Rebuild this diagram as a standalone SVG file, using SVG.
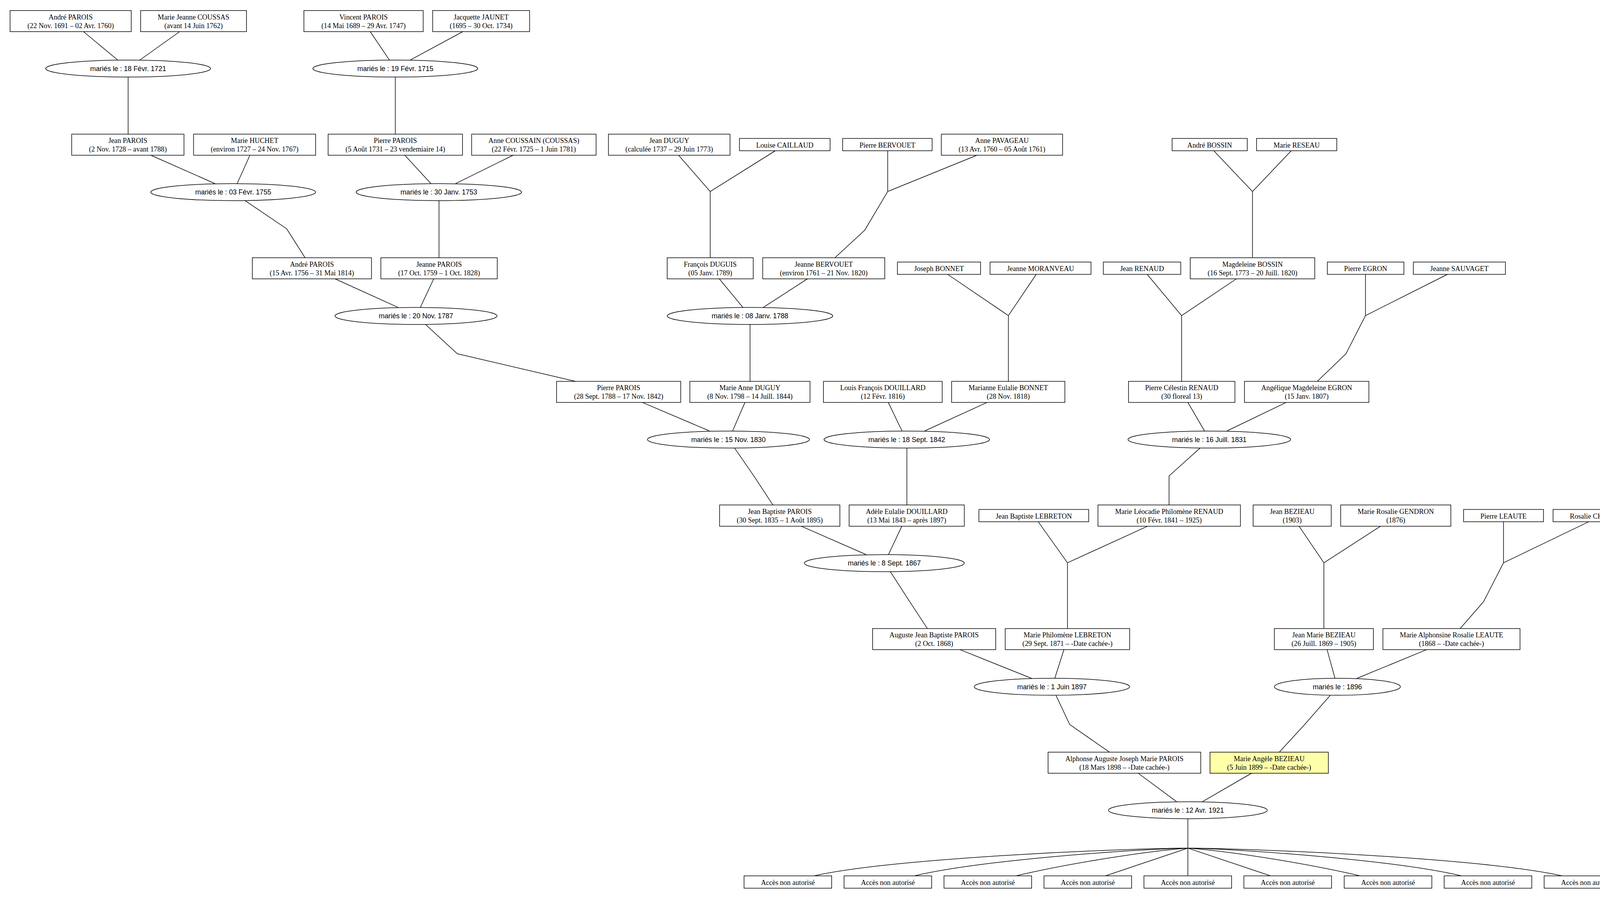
<svg xmlns="http://www.w3.org/2000/svg" width="4248" height="2302" viewBox="0 0 4248 2302">
<style>
.b{fill:#ffffff;stroke:#000000;stroke-width:1.5}
.y{fill:#ffffaa;stroke:#000000;stroke-width:1.5}
.t{font-family:"Liberation Serif","Times New Roman",serif;font-size:18.15px;fill:#000000;text-anchor:middle}
.m{fill:#ffffff;stroke:#000000;stroke-width:1.5}
.s{font-family:"Liberation Sans",Arial,sans-serif;font-size:17.7px;fill:#000000;text-anchor:middle}
#edges polyline,#edges path{fill:none;stroke:#000000;stroke-width:1.5}
</style>
<rect x="0" y="0" width="4248" height="2302" fill="#ffffff"/>
<g id="edges">
<polyline points="213.6,81 301.7,154"/>
<polyline points="460,81 357.5,154"/>
<polyline points="947.7,81 996.9,153.7"/>
<polyline points="1184.7,81 1050.4,153.7"/>
<polyline points="328,197.3 328,343.5"/>
<polyline points="1012,197.3 1012,343.5"/>
<polyline points="385,397 550.5,470.2"/>
<polyline points="640,397 607,470.2"/>
<polyline points="1035.8,397 1103.3,470.2"/>
<polyline points="1314.6,397 1166.3,470.2"/>
<polyline points="1736.7,397 1818.2,490.4"/>
<polyline points="1984.8,386 1818.2,490.4"/>
<polyline points="2272.5,386 2272.5,490.4"/>
<polyline points="2502.2,397 2272.5,490.4"/>
<polyline points="3107.3,386 3206.4,490.4"/>
<polyline points="3305.5,386 3206.4,490.4"/>
<polyline points="627.6,513.8 734,586 781,660"/>
<polyline points="1123.8,513.8 1123.8,660"/>
<polyline points="1818.2,490.4 1818.2,660"/>
<polyline points="2272.5,490.4 2213.7,589.5 2137.4,660"/>
<polyline points="3206.4,490.4 3206.4,660"/>
<polyline points="856.6,713.5 1019,787.2"/>
<polyline points="1110.5,713.5 1076,787.2"/>
<polyline points="1841,713.5 1901.9,787.2"/>
<polyline points="2067.8,713.5 1954,787.2"/>
<polyline points="2425.9,702.5 2581.5,808.2"/>
<polyline points="2652.7,702.5 2581.5,808.2"/>
<polyline points="2936.8,702.5 3024.9,808.2"/>
<polyline points="3166,713.5 3024.9,808.2"/>
<polyline points="3495.6,702.5 3495.6,808.2"/>
<polyline points="3705.5,702.5 3495.6,808.2"/>
<polyline points="1089.3,830.8 1170.7,905.8 1473.2,976.5"/>
<polyline points="1920.2,830.8 1920.2,976.5"/>
<polyline points="2581.5,808.2 2581.5,976.5"/>
<polyline points="3024.9,808.2 3024.9,976.5"/>
<polyline points="3495.6,808.2 3445.7,905.8 3372.3,976.5"/>
<polyline points="1645,1030.6 1816,1103.5"/>
<polyline points="1907,1030.6 1875.4,1103.5"/>
<polyline points="2274,1030.6 2309.2,1103.5"/>
<polyline points="2526.5,1030.6 2367.2,1103.5"/>
<polyline points="3041,1030.6 3083.6,1103.5"/>
<polyline points="3292.3,1030.6 3141,1103.5"/>
<polyline points="1880.4,1147.1 1930,1218.8 1978.7,1293.2"/>
<polyline points="2321.6,1147.1 2321.6,1293.2"/>
<polyline points="3072.3,1147.1 2992.7,1218.8 2992.7,1293.2"/>
<polyline points="2051.8,1347.6 2217.6,1420.2"/>
<polyline points="2308.6,1347.6 2274.4,1420.2"/>
<polyline points="2657.9,1336.1 2732.7,1441.1"/>
<polyline points="2937.4,1347.6 2732.7,1441.1"/>
<polyline points="3325.8,1347.6 3389.2,1441.1"/>
<polyline points="3533.8,1347.6 3389.2,1441.1"/>
<polyline points="3849,1336.1 3849,1441.1"/>
<polyline points="4066.8,1336.1 3849,1441.1"/>
<polyline points="2279.3,1463.8 2326.4,1536.9 2374.4,1609.8"/>
<polyline points="2732.7,1441.1 2732.7,1609.8"/>
<polyline points="3389.2,1441.1 3389.2,1609.8"/>
<polyline points="3849,1441.1 3797.9,1540.8 3737.7,1609.8"/>
<polyline points="2457.2,1663.4 2640.9,1737"/>
<polyline points="2723.7,1663.4 2700.2,1737"/>
<polyline points="3397.3,1663.4 3417.6,1737"/>
<polyline points="3652.4,1663.4 3473.7,1737"/>
<polyline points="2703.4,1780.6 2738.3,1855.1 2840.7,1926.4"/>
<polyline points="3405.4,1780.6 3338.8,1856.6 3274.6,1926.4"/>
<polyline points="2913.9,1980 3012.2,2052.9"/>
<polyline points="3203.9,1980 3078,2052.9"/>
<polyline points="3040.9,2096.5 3040.9,2242.7"/>
<path d="M3040.9,2171.7 C2900,2172 2300,2195 2083.6,2242.7"/>
<path d="M3040.9,2171.7 C2900.8,2174.7 2515.7,2201.7 2340.6,2242.7"/>
<path d="M3040.9,2171.7 C2930.9,2179.7 2732.8,2211.7 2600.8,2242.7"/>
<path d="M3040.9,2171.7 L2829.8,2242.7"/>
<path d="M3040.9,2171.7 L3252.7,2242.7"/>
<path d="M3040.9,2171.7 C3151.1,2179.7 3349.5,2211.7 3481.8,2242.7"/>
<path d="M3040.9,2171.7 C3181.1,2174.7 3566.6,2201.7 3741.8,2242.7"/>
<path d="M3040.9,2171.7 C3181.8,2172 3782.8,2195 3999.4,2242.7"/>
</g>
<g id="andre-parois-1691"><rect class="b" x="25.7" y="27" width="310.3" height="54"/><text class="t" x="180.9" y="49.5">André PAROIS</text><text class="t" x="180.9" y="71.5">(22 Nov. 1691 – 02 Avr. 1760)</text></g>
<g id="marie-jeanne-coussas"><rect class="b" x="360" y="27" width="271" height="54"/><text class="t" x="495.5" y="49.5">Marie Jeanne COUSSAS</text><text class="t" x="495.5" y="71.5">(avant 14 Juin 1762)</text></g>
<g id="vincent-parois"><rect class="b" x="778" y="27" width="305.4" height="54"/><text class="t" x="930.7" y="49.5">Vincent PAROIS</text><text class="t" x="930.7" y="71.5">(14 Mai 1689 – 29 Avr. 1747)</text></g>
<g id="jacquette-jaunet"><rect class="b" x="1107.6" y="27" width="248.1" height="54"/><text class="t" x="1231.7" y="49.5">Jacquette JAUNET</text><text class="t" x="1231.7" y="71.5">(1695 – 30 Oct. 1734)</text></g>
<g id="m-1721"><ellipse class="m" cx="328" cy="175.5" rx="211" ry="21.8"/><text class="s" x="328" y="181.5">mariés le : 18 Févr. 1721</text></g>
<g id="m-1715"><ellipse class="m" cx="1012" cy="175.5" rx="211" ry="21.8"/><text class="s" x="1012" y="181.5">mariés le : 19 Févr. 1715</text></g>
<g id="jean-parois"><rect class="b" x="183.5" y="343.5" width="287.5" height="54"/><text class="t" x="327.3" y="366">Jean PAROIS</text><text class="t" x="327.3" y="388">(2 Nov. 1728 – avant 1788)</text></g>
<g id="marie-huchet"><rect class="b" x="495.5" y="343.5" width="312.5" height="54"/><text class="t" x="651.8" y="366">Marie HUCHET</text><text class="t" x="651.8" y="388">(environ 1727 – 24 Nov. 1767)</text></g>
<g id="pierre-parois-1731"><rect class="b" x="840" y="343.5" width="344" height="54"/><text class="t" x="1012" y="366">Pierre PAROIS</text><text class="t" x="1012" y="388">(5 Août 1731 – 23 vendemiaire 14)</text></g>
<g id="anne-coussain"><rect class="b" x="1207.4" y="343.5" width="318.6" height="54"/><text class="t" x="1366.7" y="366">Anne COUSSAIN (COUSSAS)</text><text class="t" x="1366.7" y="388">(22 Févr. 1725 – 1 Juin 1781)</text></g>
<g id="jean-duguy"><rect class="b" x="1557.6" y="343.5" width="311.2" height="54"/><text class="t" x="1713.2" y="366">Jean DUGUY</text><text class="t" x="1713.2" y="388">(calculée 1737 – 29 Juin 1773)</text></g>
<g id="louise-caillaud"><rect class="b" x="1893" y="354.5" width="232" height="31.5"/><text class="t" x="2009" y="377.5">Louise CAILLAUD</text></g>
<g id="pierre-bervouet"><rect class="b" x="2157.2" y="354.5" width="229.1" height="31.5"/><text class="t" x="2271.8" y="377.5">Pierre BERVOUET</text></g>
<g id="anne-pavageau"><rect class="b" x="2409.7" y="343.5" width="310.6" height="54"/><text class="t" x="2565" y="366">Anne PAVAGEAU</text><text class="t" x="2565" y="388">(13 Avr. 1760 – 05 Août 1761)</text></g>
<g id="andre-bossin"><rect class="b" x="3000.6" y="354.5" width="192.4" height="31.5"/><text class="t" x="3096.8" y="377.5">André BOSSIN</text></g>
<g id="marie-reseau"><rect class="b" x="3216.7" y="354.5" width="205.5" height="31.5"/><text class="t" x="3319.5" y="377.5">Marie RESEAU</text></g>
<g id="m-1755"><ellipse class="m" cx="597" cy="492" rx="211" ry="21.8"/><text class="s" x="597" y="498">mariés le : 03 Févr. 1755</text></g>
<g id="m-1753"><ellipse class="m" cx="1123.5" cy="492" rx="211.7" ry="21.8"/><text class="s" x="1123.5" y="498">mariés le : 30 Janv. 1753</text></g>
<g id="andre-parois-1756"><rect class="b" x="646" y="660" width="305" height="54"/><text class="t" x="798.5" y="682.5">André PAROIS</text><text class="t" x="798.5" y="704.5">(15 Avr. 1756 – 31 Mai 1814)</text></g>
<g id="jeanne-parois"><rect class="b" x="975" y="660" width="298" height="54"/><text class="t" x="1124" y="682.5">Jeanne PAROIS</text><text class="t" x="1124" y="704.5">(17 Oct. 1759 – 1 Oct. 1828)</text></g>
<g id="francois-duguis"><rect class="b" x="1708" y="660" width="220.3" height="54"/><text class="t" x="1818.2" y="682.5">François DUGUIS</text><text class="t" x="1818.2" y="704.5">(05 Janv. 1789)</text></g>
<g id="jeanne-bervouet"><rect class="b" x="1952.5" y="660" width="312.5" height="54"/><text class="t" x="2108.8" y="682.5">Jeanne BERVOUET</text><text class="t" x="2108.8" y="704.5">(environ 1761 – 21 Nov. 1820)</text></g>
<g id="joseph-bonnet"><rect class="b" x="2297.4" y="671" width="212.9" height="31.5"/><text class="t" x="2403.9" y="694">Joseph BONNET</text></g>
<g id="jeanne-moranveau"><rect class="b" x="2534.5" y="671" width="258.5" height="31.5"/><text class="t" x="2663.8" y="694">Jeanne MORANVEAU</text></g>
<g id="jean-renaud"><rect class="b" x="2824.5" y="671" width="198.2" height="31.5"/><text class="t" x="2923.6" y="694">Jean RENAUD</text></g>
<g id="magdeleine-bossin"><rect class="b" x="3047" y="660" width="318.7" height="54"/><text class="t" x="3206.4" y="682.5">Magdeleine BOSSIN</text><text class="t" x="3206.4" y="704.5">(16 Sept. 1773 – 20 Juill. 1820)</text></g>
<g id="pierre-egron"><rect class="b" x="3398" y="671" width="196" height="31.5"/><text class="t" x="3496" y="694">Pierre EGRON</text></g>
<g id="jeanne-sauvaget"><rect class="b" x="3618.2" y="671" width="235.6" height="31.5"/><text class="t" x="3736" y="694">Jeanne SAUVAGET</text></g>
<g id="m-1787"><ellipse class="m" cx="1065" cy="809" rx="207.5" ry="21.8"/><text class="s" x="1065" y="815">mariés le : 20 Nov. 1787</text></g>
<g id="m-1788"><ellipse class="m" cx="1920" cy="809" rx="211.8" ry="21.8"/><text class="s" x="1920" y="815">mariés le : 08 Janv. 1788</text></g>
<g id="pierre-parois-1788"><rect class="b" x="1424.7" y="976.5" width="317.9" height="54"/><text class="t" x="1583.7" y="999">Pierre PAROIS</text><text class="t" x="1583.7" y="1021">(28 Sept. 1788 – 17 Nov. 1842)</text></g>
<g id="marie-anne-duguy"><rect class="b" x="1766" y="976.5" width="307.6" height="54"/><text class="t" x="1919.8" y="999">Marie Anne DUGUY</text><text class="t" x="1919.8" y="1021">(8 Nov. 1798 – 14 Juill. 1844)</text></g>
<g id="louis-francois-douillard"><rect class="b" x="2108" y="976.5" width="304" height="54"/><text class="t" x="2260" y="999">Louis François DOUILLARD</text><text class="t" x="2260" y="1021">(12 Févr. 1816)</text></g>
<g id="marianne-eulalie-bonnet"><rect class="b" x="2436.2" y="976.5" width="289.9" height="54"/><text class="t" x="2581.2" y="999">Marianne Eulalie BONNET</text><text class="t" x="2581.2" y="1021">(28 Nov. 1818)</text></g>
<g id="pierre-celestin-renaud"><rect class="b" x="2889" y="976.5" width="272.4" height="54"/><text class="t" x="3025.2" y="999">Pierre Célestin RENAUD</text><text class="t" x="3025.2" y="1021">(30 floreal 13)</text></g>
<g id="angelique-magdeleine-egron"><rect class="b" x="3185.8" y="976.5" width="318.6" height="54"/><text class="t" x="3345.1" y="999">Angélique Magdeleine EGRON</text><text class="t" x="3345.1" y="1021">(15 Janv. 1807)</text></g>
<g id="m-1830"><ellipse class="m" cx="1864.8" cy="1125.5" rx="207.4" ry="21.8"/><text class="s" x="1864.8" y="1131.5">mariés le : 15 Nov. 1830</text></g>
<g id="m-1842"><ellipse class="m" cx="2321.3" cy="1125.5" rx="211.8" ry="21.8"/><text class="s" x="2321.3" y="1131.5">mariés le : 18 Sept. 1842</text></g>
<g id="m-1831"><ellipse class="m" cx="3095.8" cy="1125.5" rx="208.2" ry="21.8"/><text class="s" x="3095.8" y="1131.5">mariés le : 16 Juill. 1831</text></g>
<g id="jean-baptiste-parois"><rect class="b" x="1842.2" y="1293" width="307.9" height="54.5"/><text class="t" x="1996.2" y="1315.5">Jean Baptiste PAROIS</text><text class="t" x="1996.2" y="1337.5">(30 Sept. 1835 – 1 Août 1895)</text></g>
<g id="adele-eulalie-douillard"><rect class="b" x="2173.7" y="1293" width="294.9" height="54.5"/><text class="t" x="2321.2" y="1315.5">Adèle Eulalie DOUILLARD</text><text class="t" x="2321.2" y="1337.5">(13 Mai 1843 – après 1897)</text></g>
<g id="jean-baptiste-lebreton"><rect class="b" x="2506" y="1304.5" width="281.1" height="31.5"/><text class="t" x="2646.6" y="1327.5">Jean Baptiste LEBRETON</text></g>
<g id="marie-leocadie-renaud"><rect class="b" x="2810.7" y="1293" width="364.8" height="54.5"/><text class="t" x="2993.1" y="1315.5">Marie Léocadie Philomène RENAUD</text><text class="t" x="2993.1" y="1337.5">(10 Févr. 1841 – 1925)</text></g>
<g id="jean-bezieau"><rect class="b" x="3208" y="1293" width="199.9" height="54.5"/><text class="t" x="3308" y="1315.5">Jean BEZIEAU</text><text class="t" x="3308" y="1337.5">(1903)</text></g>
<g id="marie-rosalie-gendron"><rect class="b" x="3432.2" y="1293" width="282" height="54.5"/><text class="t" x="3573.2" y="1315.5">Marie Rosalie GENDRON</text><text class="t" x="3573.2" y="1337.5">(1876)</text></g>
<g id="pierre-leaute"><rect class="b" x="3746.7" y="1304.5" width="204.7" height="31.5"/><text class="t" x="3849" y="1327.5">Pierre LEAUTE</text></g>
<g id="rosalie-chevalier"><rect class="b" x="3975.8" y="1304.5" width="245.4" height="31.5"/><text class="t" x="4098.5" y="1327.5">Rosalie CHEVALIER</text></g>
<g id="m-1867"><ellipse class="m" cx="2263.9" cy="1442" rx="204.8" ry="21.8"/><text class="s" x="2263.9" y="1448">mariés le : 8 Sept. 1867</text></g>
<g id="auguste-jean-baptiste-parois"><rect class="b" x="2233.8" y="1609.5" width="315.2" height="54"/><text class="t" x="2391.4" y="1632">Auguste Jean Baptiste PAROIS</text><text class="t" x="2391.4" y="1654">(2 Oct. 1868)</text></g>
<g id="marie-philomene-lebreton"><rect class="b" x="2573.4" y="1609.5" width="318.5" height="54"/><text class="t" x="2732.7" y="1632">Marie Philomène LEBRETON</text><text class="t" x="2732.7" y="1654">(29 Sept. 1871 – -Date cachée-)</text></g>
<g id="jean-marie-bezieau"><rect class="b" x="3262.4" y="1609.5" width="253.5" height="54"/><text class="t" x="3389.2" y="1632">Jean Marie BEZIEAU</text><text class="t" x="3389.2" y="1654">(26 Juill. 1869 – 1905)</text></g>
<g id="marie-alphonsine-leaute"><rect class="b" x="3540.3" y="1609.5" width="351" height="54"/><text class="t" x="3715.8" y="1632">Marie Alphonsine Rosalie LEAUTE</text><text class="t" x="3715.8" y="1654">(1868 – -Date cachée-)</text></g>
<g id="m-1897"><ellipse class="m" cx="2692.9" cy="1758.5" rx="199" ry="21.8"/><text class="s" x="2692.9" y="1764.5">mariés le : 1 Juin 1897</text></g>
<g id="m-1896"><ellipse class="m" cx="3423.7" cy="1758.5" rx="161.3" ry="21.8"/><text class="s" x="3423.7" y="1764.5">mariés le : 1896</text></g>
<g id="alphonse-parois"><rect class="b" x="2683.1" y="1926" width="390.8" height="54"/><text class="t" x="2878.5" y="1948.5">Alphonse Auguste Joseph Marie PAROIS</text><text class="t" x="2878.5" y="1970.5">(18 Mars 1898 – -Date cachée-)</text></g>
<g id="marie-angele-bezieau"><rect class="y" x="3097.6" y="1926" width="303" height="54"/><text class="t" x="3249.1" y="1948.5">Marie Angèle BEZIEAU</text><text class="t" x="3249.1" y="1970.5">(5 Juin 1899 – -Date cachée-)</text></g>
<g id="m-1921"><ellipse class="m" cx="3041" cy="2074.7" rx="203.5" ry="21.8"/><text class="s" x="3041" y="2080.7">mariés le : 12 Avr. 1921</text></g>
<g id="child-1"><rect class="b" x="1904.7" y="2242.7" width="224.3" height="31.7"/><text class="t" x="2016.9" y="2265.5">Accès non autorisé</text></g>
<g id="child-2"><rect class="b" x="2160.7" y="2242.7" width="224.3" height="31.7"/><text class="t" x="2272.9" y="2265.5">Accès non autorisé</text></g>
<g id="child-3"><rect class="b" x="2416.6" y="2242.7" width="224.3" height="31.7"/><text class="t" x="2528.8" y="2265.5">Accès non autorisé</text></g>
<g id="child-4"><rect class="b" x="2672.6" y="2242.7" width="224.3" height="31.7"/><text class="t" x="2784.8" y="2265.5">Accès non autorisé</text></g>
<g id="child-5"><rect class="b" x="2928.5" y="2242.7" width="224.3" height="31.7"/><text class="t" x="3040.7" y="2265.5">Accès non autorisé</text></g>
<g id="child-6"><rect class="b" x="3184.4" y="2242.7" width="224.3" height="31.7"/><text class="t" x="3296.6" y="2265.5">Accès non autorisé</text></g>
<g id="child-7"><rect class="b" x="3441.2" y="2242.7" width="224.3" height="31.7"/><text class="t" x="3553.4" y="2265.5">Accès non autorisé</text></g>
<g id="child-8"><rect class="b" x="3697.1" y="2242.7" width="224.3" height="31.7"/><text class="t" x="3809.3" y="2265.5">Accès non autorisé</text></g>
<g id="child-9"><rect class="b" x="3953" y="2242.7" width="224.3" height="31.7"/><text class="t" x="4065.2" y="2265.5">Accès non autorisé</text></g>
</svg>
